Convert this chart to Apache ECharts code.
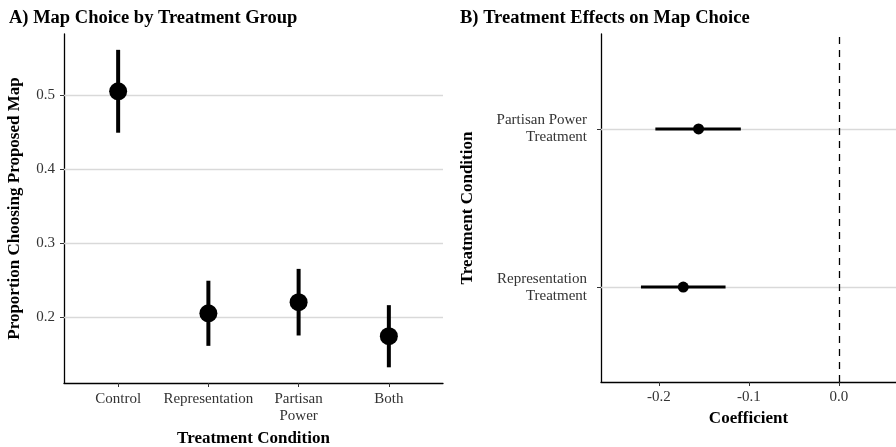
<!DOCTYPE html>
<html><head><meta charset="utf-8">
<script src="https://cdn.jsdelivr.net/npm/echarts@6/dist/echarts.min.js"></script>
<style>html,body{margin:0;padding:0;background:#fff}#c{width:896px;height:447px}</style>
</head><body><div id="c"></div>
<script>
// Panel A data
const groupLabels = ['Control', 'Representation', 'Partisan\nPower', 'Both'];
const groupMean = [0.505, 0.205, 0.220, 0.174];
const groupLow  = [0.449, 0.161, 0.175, 0.132];
const groupHigh = [0.561, 0.249, 0.265, 0.216];
const leftTicks = [0.2, 0.3, 0.4, 0.5];
// Panel B data
const effectLabels = ['Representation\nTreatment', 'Partisan Power\nTreatment'];
const effectCoef = [-0.173, -0.156];
const effectLow  = [-0.220, -0.204];
const effectHigh = [-0.126, -0.109];
const rightTicks = [-0.2, -0.1, 0.0];

const FONT = '"Liberation Serif", "Times New Roman", serif';
const groupPos = groupLabels.map((_, i) => i + 1);
const effectPos = effectLabels.map((_, i) => i + 1);

function errBar(width, horizontal) {
  return function (params, api) {
    const c = api.value(0), lo = api.value(1), hi = api.value(2);
    const p1 = horizontal ? api.coord([lo, c]) : api.coord([c, lo]);
    const p2 = horizontal ? api.coord([hi, c]) : api.coord([c, hi]);
    return { type: 'line', shape: { x1: p1[0], y1: p1[1], x2: p2[0], y2: p2[1] },
      style: { stroke: '#000', lineWidth: width, lineCap: 'butt' } };
  };
}

const axisLineStyle = { show: true, onZero: false, lineStyle: { color: '#000', width: 1.3 } };
const tickStyle = { show: true, length: 4, lineStyle: { color: '#333', width: 1 } };
const labelStyle = { fontFamily: FONT, fontSize: 15, color: '#333' };
const nameStyle = { fontFamily: FONT, fontSize: 17, fontWeight: 'bold', color: '#000' };

const chart = echarts.init(document.getElementById('c'), null, { renderer: 'canvas' });
chart.setOption({
  animation: false,
  backgroundColor: '#fff',
  title: [
    { text: 'A) Map Choice by Treatment Group', left: 4, top: 4,
      textStyle: { fontFamily: FONT, fontSize: 18.5, fontWeight: 'bold', color: '#000' } },
    { text: 'B) Treatment Effects on Map Choice', left: 455, top: 4,
      textStyle: { fontFamily: FONT, fontSize: 18.5, fontWeight: 'bold', color: '#000' } }
  ],
  grid: [
    { left: 64, top: 34, width: 379, bottom: 64, containLabel: false, outerBoundsMode: 'none' },
    { left: 601, top: 34, right: 0, bottom: 65, containLabel: false, outerBoundsMode: 'none' }
  ],
  xAxis: [
    { gridIndex: 0, type: 'value', min: 0.4, max: 4.6,
      splitLine: { show: false }, axisLine: axisLineStyle,
      axisTick: Object.assign({ customValues: groupPos }, tickStyle),
      axisLabel: Object.assign({ customValues: groupPos, margin: 8, lineHeight: 17,
        formatter: v => groupLabels[Math.round(v) - 1] }, labelStyle),
      name: 'Treatment Condition', nameLocation: 'middle', nameGap: 45, nameTextStyle: nameStyle },
    { gridIndex: 1, type: 'value', min: -0.2644, max: 0.0634,
      splitLine: { show: false }, axisLine: axisLineStyle,
      axisTick: Object.assign({ customValues: rightTicks }, tickStyle),
      axisLabel: Object.assign({ customValues: rightTicks, margin: 8,
        formatter: v => v.toFixed(1) }, labelStyle),
      name: 'Coefficient', nameLocation: 'middle', nameGap: 28, nameTextStyle: nameStyle }
  ],
  yAxis: [
    { gridIndex: 0, type: 'value', min: 0.1108, max: 0.5824,
      splitLine: { show: false }, axisLine: axisLineStyle,
      axisTick: Object.assign({ customValues: leftTicks }, tickStyle),
      axisLabel: Object.assign({ customValues: leftTicks, margin: 9,
        formatter: v => v.toFixed(1) }, labelStyle),
      name: 'Proportion Choosing Proposed Map', nameLocation: 'middle', nameGap: 41,
      nameTextStyle: nameStyle },
    { gridIndex: 1, type: 'value', min: 0.4, max: 2.6,
      splitLine: { show: false }, axisLine: axisLineStyle,
      axisTick: Object.assign({ customValues: effectPos }, tickStyle),
      axisLabel: Object.assign({ customValues: effectPos, margin: 14, lineHeight: 17, align: 'right',
        formatter: v => effectLabels[Math.round(v) - 1] }, labelStyle),
      name: 'Treatment Condition', nameLocation: 'middle', nameGap: 125, nameTextStyle: nameStyle }
  ],
  series: [
    { type: 'scatter', xAxisIndex: 0, yAxisIndex: 0, data: [], z: 1, silent: true,
      markLine: { z: 1, silent: true, symbol: 'none', label: { show: false }, animation: false,
        lineStyle: { color: '#d9d9d9', width: 1.3, type: 'solid' },
        data: leftTicks.map(v => ({ yAxis: v })) } },
    { type: 'custom', xAxisIndex: 0, yAxisIndex: 0, z: 6, silent: true,
      renderItem: errBar(4, false),
      data: groupPos.map((p, i) => [p, groupLow[i], groupHigh[i]]) },
    { type: 'scatter', xAxisIndex: 0, yAxisIndex: 0, z: 7, silent: true,
      symbol: 'circle', symbolSize: 18, itemStyle: { color: '#000', opacity: 1 },
      data: groupPos.map((p, i) => [p, groupMean[i]]) },

    { type: 'scatter', xAxisIndex: 1, yAxisIndex: 1, data: [], z: 1, silent: true,
      markLine: { z: 1, silent: true, symbol: 'none', label: { show: false }, animation: false,
        lineStyle: { color: '#d9d9d9', width: 1.3, type: 'solid' },
        data: effectPos.map(v => ({ yAxis: v })) } },
    { type: 'scatter', xAxisIndex: 1, yAxisIndex: 1, data: [], z: 2, silent: true,
      markLine: { z: 2, silent: true, symbol: 'none', label: { show: false }, animation: false,
        lineStyle: { color: '#000', width: 1.3, type: [7, 6] },
        data: [{ xAxis: 0 }] } },
    { type: 'custom', xAxisIndex: 1, yAxisIndex: 1, z: 6, silent: true,
      renderItem: errBar(3, true),
      data: effectPos.map((p, i) => [p, effectLow[i], effectHigh[i]]) },
    { type: 'scatter', xAxisIndex: 1, yAxisIndex: 1, z: 7, silent: true,
      symbol: 'circle', symbolSize: 11, itemStyle: { color: '#000', opacity: 1 },
      data: effectPos.map((p, i) => [effectCoef[i], p]) }
  ]
});
</script>
</body></html>
